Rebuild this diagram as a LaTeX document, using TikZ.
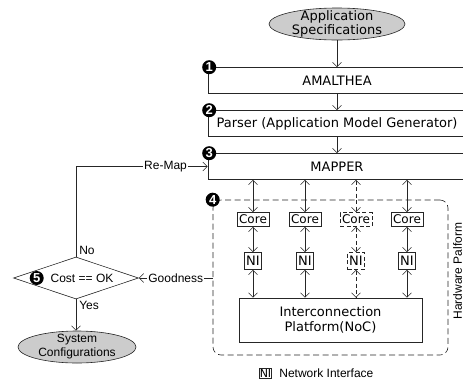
\documentclass[tikz,border=0pt]{standalone}
\usepackage{fontspec}
\setmainfont{DejaVu Sans}
\newfontfamily\arialfont{Liberation Sans}
\usetikzlibrary{shapes,arrows,arrows.meta,positioning,calc}

\tikzset{
	stage/.style={draw, minimum width=258pt, minimum height=26pt, inner sep=0pt,
		font=\fontsize{13}{15}\selectfont},
	num/.style={circle, fill=black, text=white, inner sep=0pt, minimum size=14pt,
		font=\arialfont\bfseries\fontsize{13}{13}\selectfont},
	term/.style={ellipse, draw, fill=gray!40, inner xsep=0pt, align=center},
	core/.style={draw, minimum width=32pt, minimum height=14pt, inner sep=1pt,
		font=\fontsize{12}{12}\selectfont},
	ni/.style={draw, minimum width=17pt, minimum height=17pt, inner sep=1pt,
		font=\fontsize{13}{13}\selectfont},
	hwbox/.style={draw, dash pattern=on 6pt off 3.5pt, rounded corners=8pt},
	fine/.style={dash pattern=on 4pt off 2.5pt},
	lbl/.style={fill=white, inner sep=1pt, font=\arialfont\fontsize{12}{12}\selectfont},
	decide/.style={diamond, draw, aspect=3, inner sep=0pt, minimum width=125pt,
		minimum height=42pt, font=\arialfont\fontsize{12}{12}\selectfont}
}

\begin{document}
\begin{tikzpicture}[x=1pt, y=-1pt, >={Straight Barb[length=4.5pt,width=9pt]},
		line width=0.6pt, draw=black!85]
	\useasboundingbox (0,0) rectangle (463,381);
	\clip (0,0) rectangle (463,381);

	% flow of the tool chain
	\node[term, minimum width=136pt, minimum height=32pt, inner ysep=-3pt,
		font=\fontsize{13}{14}\selectfont] (appspec) at (337,24) {Application\\Specifications};
	\node[stage] (amal) at (337,80.5) {AMALTHEA};
	\node[stage] (parser) at (337,123.5) {Parser (Application Model Generator)};
	\node[stage] (mapper) at (337,166.5) {MAPPER};
	\node[num] at ([xshift=1.5pt]amal.north west) {1};
	\node[num] at ([xshift=1.5pt]parser.north west) {2};
	\node[num] at ([xshift=1.5pt]mapper.north west) {3};
	\draw[->] (appspec) -- (amal);
	\draw[->] (amal) -- (parser);
	\draw[->] (parser) -- (mapper);

	% hardware platform
	\node[hwbox, minimum width=235pt, minimum height=155pt] (hw) at (330.5,277.5) {};
	\node[num] at (hw.north west) {4};
	\node[rotate=90, font=\arialfont\fontsize{12}{12}\selectfont] at (457.5,271) {Hardware Palform};
	\node[draw, minimum width=183pt, minimum height=44pt, align=center,
		font=\fontsize{13}{15}\selectfont] (noc) at (330.5,320) {Interconnection\\Platform(NoC)};
	\foreach \x/\s [count=\i] in {253/solid,305/solid,356/fine,407/solid}{
		\node[core,\s] (core\i) at (\x,219.5) {Core};
		\node[ni,\s] (ni\i) at (\x,261) {NI};
		\draw[<->,\s] (core\i.north |- mapper.south) -- (core\i);
		\draw[<->,\s] (core\i) -- (ni\i);
		\draw[<->,\s] (ni\i) -- (ni\i |- noc.north);
	}

	% legend
	\node[draw, minimum width=11pt, minimum height=10pt, inner sep=0.5pt,
		font=\fontsize{11}{11}\selectfont] (legni) at (265.5,373) {NI};
	\node[right=7pt of legni, inner sep=0pt,
		font=\arialfont\fontsize{12}{12}\selectfont] (legtxt) {Network Interface};

	% decision
	\node[decide] (cost) at (76,278) {\hspace{12pt}Cost == OK};
	\node[num] (n5) at ([xshift=23.5pt]cost.west) {5};
	\node[term, minimum width=118pt, minimum height=32pt, inner ysep=-1.5pt,
		font=\arialfont\fontsize{12}{14}\selectfont] (sysconf) at (77,347) {System\\Configurations};
	\draw[->] (hw.west |- cost) -- node[lbl] {Goodness} (cost.east);
	\draw[->] (cost.north) |- node[lbl, pos=0.84] {Re-Map} (mapper.west);
	\draw[->] (cost.south) -- (cost.south |- sysconf.north);
	\node[lbl, fill=none, anchor=south west] at ([xshift=2pt,yshift=1pt]cost.north) {No};
	\node[lbl, fill=none, anchor=north west] at ([xshift=2pt,yshift=-1pt]cost.south) {Yes};
\end{tikzpicture}
\end{document}
